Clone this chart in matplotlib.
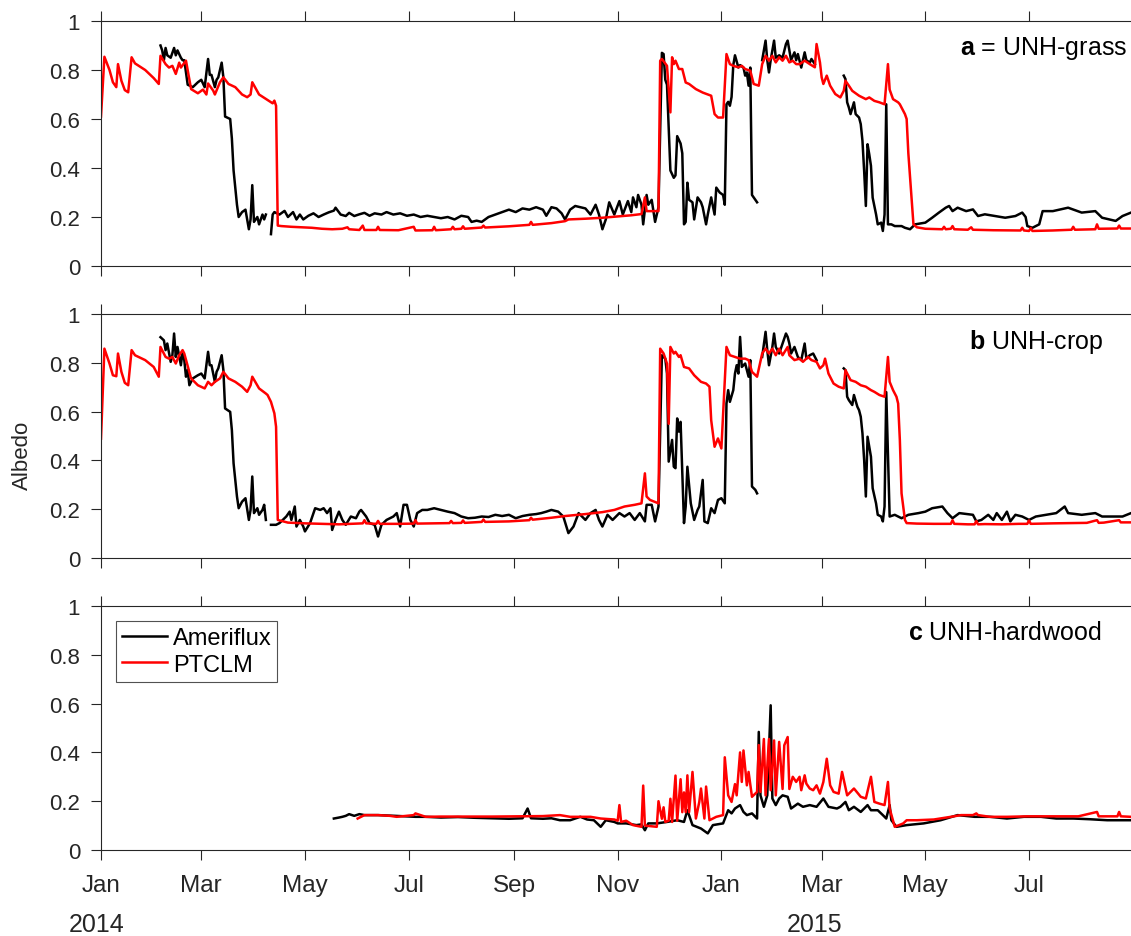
import numpy as np
import matplotlib
matplotlib.use("Agg")
import matplotlib.pyplot as plt
import matplotlib.dates as mdates

nan = np.nan
start = np.datetime64("2014-01-01")

# ----------------------------
# Data: days since 2014-01-01 and albedo
# ----------------------------

# a) UNH-grass, Ameriflux
grass_obs_day = [35, 36, 37, 38, 39, 41, 43, 44, 45, 47, 48, 49, 51, 54, 57, 59, 61, 63, 64, 65,
                 67, 68, 69, 71, 72, 73, 76, 77, 78, 80, 81, 83, 85, 87, 88, 89, 90, 92, 93, 95,
                 96, 97, 99, 100, 101, 102, 105, 108, 110, 113, 115, 117, 119, 122, 125, 128, 131, 134, 137, 138,
                 141, 144, 146, 149, 152, 155, 158, 161, 165, 168, 172, 176, 180, 184, 188, 192, 196, 200, 204, 208,
                 212, 216, 218, 221, 224, 228, 232, 236, 240, 244, 248, 252, 256, 260, 262, 265, 268, 271, 273, 276,
                 279, 282, 285, 288, 291, 293, 295, 297, 299, 302, 305, 307, 310, 312, 313, 315, 316, 318, 319, 321,
                 322, 324, 326, 328, 330, 331, 332, 333, 335, 337, 338, 339, 341, 342, 343, 344, 345, 346, 348, 349,
                 351, 353, 354, 356, 357, 359, 361, 362, 364, 366, 367, 368, 369, 370, 371, 372, 373, 375, 376, 378,
                 379, 380, 381, 382, 383, 385, 386, 387, 389, 391, 392, 393, 394, 396, 397, 399, 401, 403, 404, 405,
                 406, 408, 409, 410, 412, 413, 414, 415, 417, 418, 420, 421, 437, 438, 439, 440, 441, 443, 444, 446,
                 447, 448, 449, 450, 451, 452, 453, 454, 456, 457, 459, 460, 461, 462, 463, 465, 467, 471, 473, 476,
                 479, 485, 489, 493, 497, 499, 501, 504, 509, 513, 516, 520, 526, 532, 538, 542, 544, 545, 548, 552,
                 554, 560, 569, 577, 585, 589, 597, 601, 606]
grass_obs = [0.90, 0.88, 0.84, 0.89, 0.86, 0.85, 0.89, 0.86, 0.88, 0.85, 0.84, 0.84, 0.74, 0.73, 0.75, 0.76, 0.73, 0.845, 0.78, 0.78,
             0.73, 0.76, 0.77, 0.83, 0.77, 0.61, 0.60, 0.52, 0.39, 0.25, 0.20, 0.22, 0.23, 0.15, 0.19, 0.33, 0.18, 0.20, 0.17, 0.21,
             0.19, 0.21, nan, 0.13, 0.21, 0.22, 0.21, 0.225, 0.20, 0.22, 0.19, 0.21, 0.19, 0.205, 0.215, 0.20, 0.21, 0.219, 0.226, 0.238,
             0.21, 0.204, 0.217, 0.204, 0.211, 0.217, 0.205, 0.215, 0.21, 0.22, 0.21, 0.215, 0.205, 0.21, 0.20, 0.205, 0.20, 0.195, 0.20, 0.19,
             0.205, 0.20, 0.18, 0.185, 0.18, 0.20, 0.21, 0.22, 0.23, 0.22, 0.235, 0.23, 0.24, 0.23, 0.205, 0.24, 0.235, 0.215, 0.19, 0.23,
             0.245, 0.24, 0.235, 0.21, 0.25, 0.21, 0.15, 0.19, 0.26, 0.21, 0.265, 0.21, 0.265, 0.22, 0.28, 0.24, 0.29, 0.25, 0.17, 0.29,
             0.25, 0.27, 0.18, 0.24, 0.87, 0.865, 0.76, 0.74, 0.39, 0.36, 0.37, 0.53, 0.50, 0.46, 0.17, 0.18, 0.34, 0.27, 0.26, 0.19,
             0.28, 0.26, 0.24, 0.17, 0.21, 0.28, 0.21, 0.32, 0.30, 0.29, 0.25, 0.66, 0.67, 0.654, 0.69, 0.82, 0.86, 0.81, 0.82, 0.81,
             0.777, 0.79, 0.736, 0.81, 0.29, 0.27, 0.26, nan, 0.84, 0.92, 0.84, 0.79, 0.84, 0.92, 0.85, 0.86, 0.85, 0.906, 0.92, 0.88,
             0.84, 0.872, 0.84, 0.865, 0.81, 0.84, 0.872, 0.84, 0.83, 0.845, 0.824, nan, 0.777, 0.763, 0.668, 0.647, 0.62, 0.668, 0.62, 0.606,
             0.579, 0.511, 0.388, 0.245, 0.497, 0.456, 0.409, 0.279, 0.211, 0.17, 0.177, 0.143, 0.21, 0.66, 0.17, 0.17, 0.163, 0.163, 0.156, 0.15,
             0.17, 0.177, 0.197, 0.218, 0.238, 0.245, 0.224, 0.238, 0.224, 0.231, 0.204, 0.211, 0.204, 0.197, 0.204, 0.218, 0.20, 0.163, 0.156, 0.17,
             0.224, 0.224, 0.238, 0.218, 0.224, 0.197, 0.184, 0.204, 0.218]

# a) UNH-grass, PTCLM
grass_mod_day = [0, 2, 5, 7, 9, 10, 12, 14, 16, 18, 20, 26, 31, 34, 35, 38, 40, 42, 44, 46,
                 47, 50, 53, 57, 60, 62, 63, 66, 67, 70, 72, 75, 79, 83, 86, 88, 89, 93, 97, 101,
                 102, 103, 104, 106, 112, 118, 124, 130, 136, 142, 145, 146, 152, 154, 155, 162, 163, 164, 175, 184,
                 185, 195, 196, 197, 206, 207, 208, 212, 213, 214, 224, 225, 226, 240, 252, 253, 254, 265, 273, 275,
                 285, 295, 305, 312, 318, 320, 321, 328, 329, 330, 333, 335, 336, 337, 338, 340, 342, 344, 346, 350,
                 354, 359, 361, 363, 366, 368, 370, 372, 375, 377, 379, 382, 384, 387, 389, 391, 393, 395, 397, 399,
                 401, 403, 405, 407, 409, 411, 414, 417, 420, 421, 423, 424, 425, 427, 429, 432, 435, 437, 438, 440,
                 442, 446, 450, 452, 455, 458, 461, 463, 464, 466, 469, 470, 473, 474, 475, 477, 478, 480, 485, 495,
                 496, 497, 500, 501, 502, 510, 512, 513, 525, 541, 542, 543, 546, 547, 548, 560, 571, 572, 573, 585,
                 586, 587, 598, 599, 600, 606]
grass_mod = [0.61, 0.854, 0.80, 0.75, 0.73, 0.824, 0.756, 0.718, 0.709, 0.852, 0.827, 0.80, 0.767, 0.743, 0.858, 0.824, 0.81, 0.817, 0.784, 0.83,
             0.81, 0.838, 0.722, 0.705, 0.72, 0.70, 0.745, 0.716, 0.70, 0.75, 0.77, 0.743, 0.73, 0.70, 0.689, 0.70, 0.75, 0.70, 0.682, 0.664,
             0.675, 0.654, 0.165, 0.163, 0.160, 0.158, 0.156, 0.152, 0.150, 0.152, 0.158, 0.150, 0.147, 0.165, 0.147, 0.147, 0.160, 0.147, 0.146, 0.160,
             0.145, 0.146, 0.160, 0.146, 0.150, 0.160, 0.150, 0.152, 0.162, 0.152, 0.157, 0.165, 0.157, 0.162, 0.168, 0.18, 0.168, 0.175, 0.183, 0.19,
             0.193, 0.197, 0.203, 0.207, 0.212, 0.28, 0.224, 0.224, 0.838, 0.845, 0.817, 0.627, 0.852, 0.824, 0.838, 0.804, 0.804, 0.749, 0.743, 0.722,
             0.708, 0.695, 0.62, 0.606, 0.606, 0.865, 0.824, 0.817, 0.811, 0.817, 0.804, 0.797, 0.743, 0.736, 0.824, 0.858, 0.838, 0.858, 0.831, 0.852,
             0.838, 0.858, 0.831, 0.838, 0.824, 0.824, 0.838, 0.824, 0.811, 0.906, 0.831, 0.770, 0.743, 0.777, 0.736, 0.702, 0.688, 0.715, 0.756, 0.736,
             0.715, 0.695, 0.681, 0.688, 0.674, 0.668, 0.660, 0.824, 0.72, 0.681, 0.668, 0.66, 0.62, 0.60, 0.46, 0.265, 0.17, 0.158, 0.152, 0.150,
             0.160, 0.150, 0.152, 0.163, 0.150, 0.148, 0.158, 0.148, 0.146, 0.145, 0.156, 0.145, 0.143, 0.155, 0.143, 0.145, 0.148, 0.160, 0.148, 0.150,
             0.170, 0.152, 0.153, 0.165, 0.153, 0.153]

# b) UNH-crop, Ameriflux
crop_obs_day = [35, 37, 38, 39, 41, 42, 43, 44, 45, 47, 48, 49, 50, 51, 52, 54, 57, 59, 61, 63,
                64, 65, 67, 68, 69, 71, 72, 73, 76, 77, 78, 80, 81, 83, 85, 87, 88, 89, 90, 92,
                93, 95, 96, 97, 98, 100, 103, 105, 109, 111, 112, 114, 115, 117, 119, 120, 123, 126, 129, 131,
                133, 135, 136, 138, 140, 142, 144, 147, 150, 152, 153, 156, 158, 161, 163, 165, 168, 172, 174, 176,
                178, 180, 182, 184, 186, 189, 192, 196, 200, 204, 208, 212, 216, 220, 224, 228, 232, 236, 240, 244,
                248, 252, 256, 259, 262, 265, 269, 272, 275, 278, 281, 285, 288, 291, 293, 295, 298, 301, 305, 308,
                311, 314, 317, 320, 321, 324, 326, 328, 330, 332, 333, 334, 336, 337, 338, 339, 340, 341, 343, 344,
                345, 347, 349, 351, 352, 354, 355, 357, 359, 361, 363, 365, 367, 368, 369, 370, 372, 373, 374, 375,
                376, 377, 379, 381, 382, 383, 385, 386, 387, 389, 391, 392, 393, 395, 396, 397, 399, 401, 403, 404,
                405, 406, 408, 410, 412, 414, 415, 417, 419, 421, 422, 437, 438, 439, 440, 442, 443, 445, 446, 447,
                448, 449, 450, 451, 452, 453, 454, 456, 457, 459, 460, 461, 462, 464, 467, 471, 475, 481, 485, 489,
                495, 498, 501, 505, 513, 515, 518, 522, 525, 527, 530, 533, 535, 538, 542, 546, 550, 556, 562, 567,
                569, 577, 585, 589, 601, 606]
crop_obs = [0.905, 0.892, 0.852, 0.879, 0.804, 0.831, 0.92, 0.824, 0.865, 0.79, 0.845, 0.811, 0.743, 0.77, 0.708, 0.736, 0.749, 0.756, 0.736, 0.845,
            0.79, 0.79, 0.722, 0.763, 0.777, 0.831, 0.770, 0.613, 0.599, 0.524, 0.388, 0.252, 0.204, 0.231, 0.245, 0.156, 0.197, 0.334, 0.184, 0.204,
            0.177, 0.197, 0.218, 0.156, nan, 0.136, 0.136, 0.143, 0.17, 0.19, 0.156, 0.211, 0.129, 0.156, 0.129, 0.109, 0.143, 0.204, 0.197, 0.204,
            0.184, 0.204, 0.115, 0.156, 0.19, 0.156, 0.136, 0.17, 0.163, 0.19, 0.197, 0.17, 0.143, 0.136, 0.088, 0.136, 0.156, 0.17, 0.184, 0.129,
            0.218, 0.218, 0.156, 0.129, 0.184, 0.197, 0.197, 0.204, 0.197, 0.19, 0.184, 0.17, 0.163, 0.165, 0.17, 0.168, 0.177, 0.172, 0.177, 0.163,
            0.172, 0.177, 0.18, 0.184, 0.19, 0.197, 0.19, 0.17, 0.102, 0.129, 0.184, 0.156, 0.184, 0.197, 0.156, 0.129, 0.177, 0.156, 0.184, 0.17,
            0.184, 0.156, 0.184, 0.15, 0.218, 0.218, 0.15, 0.211, 0.831, 0.817, 0.756, 0.395, 0.484, 0.374, 0.368, 0.572, 0.518, 0.558, 0.143, 0.211,
            0.374, 0.224, 0.156, 0.197, 0.211, 0.32, 0.15, 0.143, 0.204, 0.184, 0.238, 0.245, 0.224, 0.633, 0.688, 0.64, 0.688, 0.756, 0.79, 0.756,
            0.906, 0.783, 0.797, 0.743, 0.811, 0.293, 0.279, 0.265, nan, 0.824, 0.927, 0.852, 0.79, 0.865, 0.92, 0.865, 0.838, 0.879, 0.92, 0.906,
            0.879, 0.838, 0.865, 0.824, 0.811, 0.879, 0.817, 0.831, 0.838, 0.811, nan, 0.777, 0.77, 0.661, 0.647, 0.627, 0.668, 0.62, 0.606, 0.579,
            0.511, 0.402, 0.252, 0.497, 0.456, 0.415, 0.286, 0.224, 0.177, 0.17, 0.15, 0.211, 0.68, 0.17, 0.177, 0.163, 0.177, 0.184, 0.19, 0.204,
            0.211, 0.184, 0.163, 0.184, 0.177, 0.15, 0.156, 0.177, 0.156, 0.184, 0.156, 0.19, 0.15, 0.177, 0.17, 0.156, 0.17, 0.177, 0.184, 0.211,
            0.184, 0.177, 0.184, 0.17, 0.17, 0.184]

# b) UNH-crop, PTCLM
crop_mod_day = [0, 2, 5, 7, 9, 10, 12, 14, 16, 18, 20, 26, 31, 34, 35, 38, 40, 42, 44, 46,
                48, 49, 53, 57, 61, 63, 65, 67, 70, 72, 75, 79, 83, 86, 88, 89, 93, 97, 98, 100,
                102, 103, 104, 110, 120, 130, 140, 150, 154, 155, 156, 162, 163, 164, 175, 184, 185, 186, 196, 205,
                206, 207, 212, 213, 214, 224, 225, 226, 240, 252, 253, 254, 265, 273, 285, 295, 302, 308, 314, 318,
                320, 321, 323, 328, 329, 331, 333, 334, 335, 337, 338, 340, 341, 343, 346, 349, 353, 356, 358, 359,
                361, 363, 365, 368, 370, 373, 376, 379, 381, 383, 386, 389, 391, 393, 395, 397, 399, 401, 404, 405,
                408, 411, 413, 416, 418, 421, 423, 425, 426, 428, 431, 434, 437, 438, 441, 444, 447, 450, 453, 455,
                458, 461, 463, 464, 466, 468, 469, 470, 471, 473, 474, 480, 490, 500, 501, 502, 510, 514, 515, 516,
                520, 530, 540, 545, 546, 547, 560, 570, 580, 586, 587, 590, 599, 600, 606]
crop_mod = [0.489, 0.858, 0.797, 0.749, 0.745, 0.838, 0.763, 0.718, 0.708, 0.852, 0.831, 0.811, 0.783, 0.743, 0.865, 0.824, 0.817, 0.824, 0.797, 0.831,
            0.852, 0.838, 0.736, 0.708, 0.695, 0.722, 0.708, 0.722, 0.736, 0.763, 0.736, 0.722, 0.702, 0.681, 0.708, 0.743, 0.695, 0.674, 0.668, 0.640,
            0.593, 0.538, 0.156, 0.145, 0.142, 0.140, 0.138, 0.141, 0.142, 0.155, 0.142, 0.140, 0.152, 0.140, 0.140, 0.141, 0.155, 0.141, 0.142, 0.143,
            0.152, 0.143, 0.144, 0.154, 0.144, 0.148, 0.158, 0.148, 0.150, 0.155, 0.165, 0.157, 0.165, 0.172, 0.180, 0.188, 0.197, 0.211, 0.218, 0.224,
            0.347, 0.252, 0.238, 0.224, 0.858, 0.838, 0.797, 0.55, 0.865, 0.838, 0.845, 0.824, 0.831, 0.783, 0.777, 0.749, 0.722, 0.715, 0.702, 0.565,
            0.456, 0.490, 0.449, 0.865, 0.831, 0.824, 0.817, 0.817, 0.811, 0.763, 0.743, 0.838, 0.858, 0.838, 0.858, 0.831, 0.858, 0.831, 0.865, 0.831,
            0.811, 0.817, 0.804, 0.824, 0.811, 0.804, 0.777, 0.790, 0.817, 0.756, 0.715, 0.702, 0.695, 0.770, 0.729, 0.722, 0.708, 0.702, 0.688, 0.681,
            0.668, 0.661, 0.824, 0.722, 0.688, 0.661, 0.633, 0.484, 0.265, 0.156, 0.143, 0.141, 0.140, 0.140, 0.155, 0.140, 0.138, 0.138, 0.152, 0.138,
            0.139, 0.138, 0.140, 0.140, 0.154, 0.140, 0.142, 0.143, 0.144, 0.155, 0.144, 0.145, 0.155, 0.146, 0.146]

# c) UNH-hardwood, Ameriflux
hw_obs_day = [137, 140, 142, 144, 146, 149, 152, 155, 163, 173, 185, 191, 200, 210, 220, 230, 240, 248, 251, 253,
              260, 265, 270, 276, 282, 286, 290, 294, 297, 302, 304, 309, 315, 318, 320, 322, 327, 333, 339, 343,
              345, 348, 353, 357, 360, 366, 369, 371, 373, 376, 378, 380, 383, 386, 387, 388, 390, 392, 394, 395,
              397, 399, 401, 404, 406, 410, 413, 417, 421, 425, 428, 433, 435, 438, 440, 443, 447, 451, 453, 457,
              460, 462, 464, 465, 468, 474, 484, 494, 504, 514, 523, 533, 543, 553, 562, 572, 582, 592, 606]
hw_obs = [0.129, 0.133, 0.136, 0.14, 0.147, 0.14, 0.147, 0.143, 0.143, 0.14, 0.136, 0.136, 0.133, 0.135, 0.132, 0.13, 0.128, 0.13, 0.17, 0.13,
          0.128, 0.13, 0.122, 0.122, 0.136, 0.125, 0.122, 0.095, 0.122, 0.115, 0.109, 0.109, 0.102, 0.105, 0.081, 0.109, 0.109, 0.115, 0.122, 0.115,
          0.163, 0.102, 0.088, 0.068, 0.102, 0.109, 0.163, 0.15, 0.17, 0.184, 0.156, 0.143, 0.15, 0.129, 0.484, 0.224, 0.177, 0.224, 0.593, 0.211,
          0.184, 0.211, 0.224, 0.218, 0.17, 0.19, 0.177, 0.184, 0.177, 0.211, 0.177, 0.17, 0.177, 0.197, 0.163, 0.177, 0.156, 0.184, 0.163, 0.163,
          0.143, 0.129, 0.184, 0.122, 0.095, 0.102, 0.109, 0.122, 0.143, 0.136, 0.136, 0.129, 0.136, 0.136, 0.129, 0.129, 0.126, 0.122, 0.122]

# c) UNH-hardwood, PTCLM
hw_mod_day = [151, 155, 163, 170, 174, 184, 185, 191, 200, 215, 230, 245, 260, 270, 276, 288, 294, 302, 304, 305,
              306, 309, 313, 318, 319, 320, 327, 328, 330, 331, 332, 334, 335, 336, 338, 339, 341, 342, 343, 344,
              345, 346, 348, 350, 352, 353, 355, 356, 358, 362, 366, 367, 369, 371, 373, 374, 376, 377, 378, 380,
              381, 383, 386, 387, 388, 390, 391, 393, 394, 396, 397, 399, 401, 402, 404, 405, 407, 409, 411, 412,
              414, 415, 417, 419, 421, 423, 425, 427, 429, 431, 434, 436, 439, 443, 447, 450, 453, 455, 458, 461,
              463, 464, 467, 472, 474, 480, 490, 500, 506, 513, 515, 516, 523, 533, 545, 560, 575, 586, 587, 598,
              599, 600, 606]
hw_mod = [0.129, 0.143, 0.143, 0.14, 0.136, 0.143, 0.15, 0.136, 0.137, 0.137, 0.137, 0.138, 0.139, 0.143, 0.136, 0.136, 0.129, 0.125, 0.12, 0.184,
          0.115, 0.12, 0.102, 0.095, 0.264, 0.10, 0.095, 0.2, 0.128, 0.175, 0.115, 0.12, 0.21, 0.115, 0.305, 0.12, 0.29, 0.155, 0.236, 0.155,
          0.306, 0.155, 0.32, 0.129, 0.197, 0.252, 0.129, 0.26, 0.122, 0.136, 0.143, 0.38, 0.224, 0.197, 0.27, 0.224, 0.40, 0.279, 0.408, 0.265,
          0.32, 0.218, 0.238, 0.43, 0.238, 0.455, 0.224, 0.455, 0.245, 0.449, 0.224, 0.443, 0.25, 0.429, 0.463, 0.25, 0.30, 0.279, 0.30, 0.245,
          0.306, 0.272, 0.252, 0.245, 0.265, 0.231, 0.279, 0.374, 0.265, 0.238, 0.231, 0.32, 0.224, 0.252, 0.218, 0.211, 0.30, 0.197, 0.19, 0.184,
          0.279, 0.17, 0.095, 0.109, 0.122, 0.122, 0.125, 0.136, 0.143, 0.143, 0.15, 0.143, 0.136, 0.136, 0.138, 0.138, 0.138, 0.156, 0.138, 0.138,
          0.156, 0.138, 0.136]

panels = [
    ("a", " = UNH-grass", grass_obs_day, grass_obs, grass_mod_day, grass_mod),
    ("b", " UNH-crop", crop_obs_day, crop_obs, crop_mod_day, crop_mod),
    ("c", " UNH-hardwood", hw_obs_day, hw_obs, hw_mod_day, hw_mod),
]

# ----------------------------
# Style
# ----------------------------
plt.rcParams["font.family"] = ["Liberation Sans", "DejaVu Sans"]
plt.rcParams["mathtext.fontset"] = "custom"
plt.rcParams["mathtext.bf"] = "Liberation Sans:bold"
plt.rcParams["mathtext.rm"] = "Liberation Sans"
axis_grey = "#262626"

fig = plt.figure(figsize=(11.31, 9.37), dpi=100)
W, H = 1131.0, 937.0
boxes = [(22, 267), (315, 559), (607, 851)]   # top / bottom pixel rows of each panel
label_pos = [(0.996, 0.89), (0.973, 0.889), (0.971, 0.893)]

x0 = start
x1 = start + np.timedelta64(606, "D")

axes = []
for i, (letter, name, od, ov, md, mv) in enumerate(panels):
    top, bot = boxes[i]
    ax = fig.add_axes([101 / W, 1 - bot / H, (W - 101) / W, (bot - top) / H])
    obs_dates = start + np.array(od).astype("timedelta64[D]")
    mod_dates = start + np.array(md).astype("timedelta64[D]")
    ax.plot(obs_dates, ov, color="black", lw=1.8, label="Ameriflux")
    ax.plot(mod_dates, mv, color="red", lw=1.8, label="PTCLM")

    ax.set_xlim(x0, x1)
    ax.set_ylim(0, 1)
    ax.set_yticks([0, 0.2, 0.4, 0.6, 0.8, 1])
    ax.set_yticklabels(["0", "0.2", "0.4", "0.6", "0.8", "1"])
    ax.xaxis.set_major_locator(mdates.MonthLocator(bymonth=[1, 3, 5, 7, 9, 11]))
    ax.xaxis.set_major_formatter(mdates.DateFormatter("%b"))
    ax.tick_params(direction="out", length=7, width=0.8, colors=axis_grey,
                   top=True, right=False)
    ax.tick_params(axis="y", labelsize=16, pad=8)
    ax.tick_params(axis="x", labelsize=17.5, pad=10)
    for side in ["left", "top", "bottom"]:
        ax.spines[side].set_color(axis_grey)
        ax.spines[side].set_linewidth(0.8)
    ax.spines["right"].set_visible(False)
    if i < 2:
        ax.set_xticklabels([])

    lx, ly = label_pos[i]
    ax.text(lx, ly, r"$\mathbf{" + letter + "}$" + name, transform=ax.transAxes,
            ha="right", va="center", fontsize=18, color="black")
    axes.append(ax)

leg = axes[2].legend(loc="upper left", bbox_to_anchor=(0.0146, 0.9385), borderaxespad=0,
                     fontsize=17, frameon=True, fancybox=False, handlelength=1.9,
                     handletextpad=0.25, labelspacing=0.2, borderpad=0.25)
leg.get_frame().set_edgecolor(axis_grey)
leg.get_frame().set_linewidth(0.8)

fig.text(22 / W, 1 - 455 / H, "Albedo", rotation=90, ha="center", va="center",
         fontsize=16, color=axis_grey)
fig.text(97 / W, 1 - 925 / H, "2014", ha="center", va="center", fontsize=18, color=axis_grey)
fig.text(815 / W, 1 - 925 / H, "2015", ha="center", va="center", fontsize=18, color=axis_grey)

fig.savefig("out.png", dpi=100)
